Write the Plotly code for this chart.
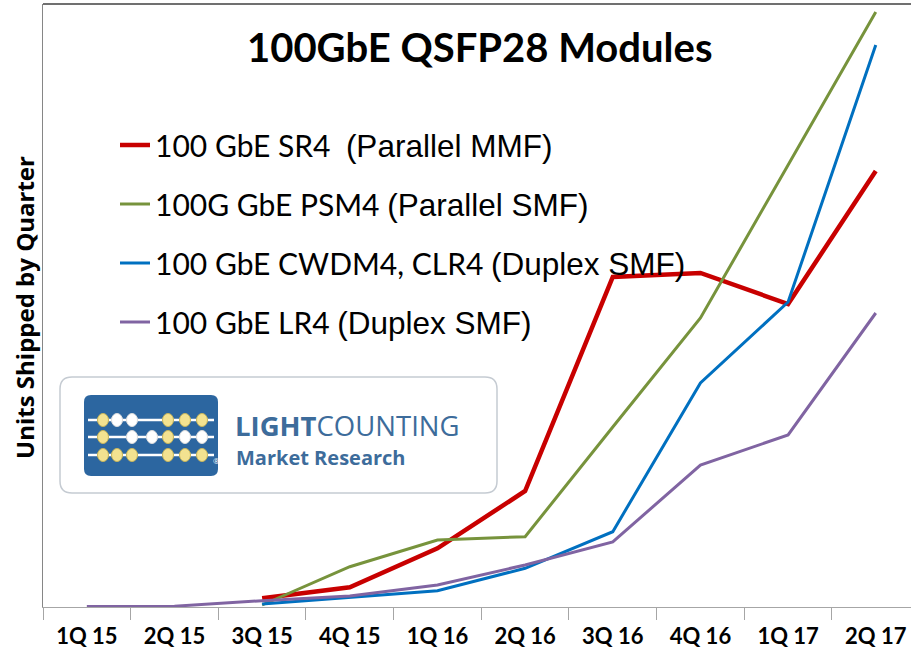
import plotly.graph_objects as go

# ---------------- data ----------------
quarters = ["1Q 15", "2Q 15", "3Q 15", "4Q 15", "1Q 16", "2Q 16", "3Q 16", "4Q 16", "1Q 17", "2Q 17"]
sr4   = [None, None, 8.7, 19.7, 58.7, 116, 330, 334, 303, 436]
psm4  = [None, None, 2.0, 40.3, 67, 70.3, 180, 289, 442, 595]
cwdm4 = [None, None, 3.0, 9.7, 16.3, 38.7, 75.3, 224, 305, 562]
lr4   = [0.5, 0.8, 6.3, 11, 22, 42, 65, 142, 172, 294]

names = [
    "100 GbE SR4\u00a0\u00a0<span style='font-family:Liberation Sans;font-size:31.5px'>(Parallel MMF)</span>",
    "100G GbE PSM4\u00a0<span style='font-family:Liberation Sans;font-size:31.5px'>(Parallel SMF)</span>",
    "100 GbE CWDM4, CLR4\u00a0<span style='font-family:Liberation Sans;font-size:31.5px'>(Duplex SMF)</span>",
    "100 GbE LR4\u00a0<span style='font-family:Liberation Sans;font-size:31.5px'>(Duplex SMF)</span>",
]
series = [sr4, psm4, cwdm4, lr4]
colors = ["#C80000", "#77933C", "#0070C0", "#8064A2"]
widths = [4.5, 3, 3, 3]

W, H = 911, 650
L, R_PX, T, B = 43, 911, 4, 607  # plot area in pixels


def px(x):
    return (x - L) / (R_PX - L)


def py(y):
    return (B - y) / (B - T)


fig = go.Figure()
for i, (nm, s, c, w) in enumerate(zip(names, series, colors, widths)):
    fig.add_trace(go.Scatter(
        x=quarters, y=s, mode="lines", name=nm,
        line=dict(color=c, width=w), legendgroup=f"g{i}",
        connectgaps=False,
    ))

shapes = []
annotations = []

# top border line
shapes.append(dict(type="line", xref="paper", yref="paper", x0=0, x1=1, y0=1, y1=1,
                   line=dict(color="#404040", width=1.5)))


# ---- logo box ----
def rrect(x0, y0, x1, y1, r):
    rx = r / (R_PX - L)
    ry = r / (B - T)
    X0, X1 = px(x0), px(x1)
    Y0, Y1 = py(y1), py(y0)  # bottom, top in paper
    return (f"M{X0+rx},{Y0} L{X1-rx},{Y0} Q{X1},{Y0} {X1},{Y0+ry} "
            f"L{X1},{Y1-ry} Q{X1},{Y1} {X1-rx},{Y1} L{X0+rx},{Y1} "
            f"Q{X0},{Y1} {X0},{Y1-ry} L{X0},{Y0+ry} Q{X0},{Y0} {X0+rx},{Y0} Z")


shapes.append(dict(type="path", xref="paper", yref="paper", path=rrect(60, 377, 497, 493, 12),
                   fillcolor="white", line=dict(color="#C5CBD2", width=1.5), layer="above"))
shapes.append(dict(type="path", xref="paper", yref="paper", path=rrect(84, 395, 218, 476, 7),
                   fillcolor="#2C66A0", line=dict(width=0), layer="above"))
rod_y = [420, 437, 455]
for yy in rod_y:
    shapes.append(dict(type="line", xref="paper", yref="paper", x0=px(88), x1=px(214),
                       y0=py(yy), y1=py(yy), line=dict(color="white", width=2.5), layer="above"))
bead_x = [103, 117, 132, 152, 168, 185, 202]
rows = [
    ["y", "w", "w", None, "y", "y", "y"],
    ["y", None, "w", "w", "y", "w", "w"],
    ["y", "y", "y", None, "y", "y", "y"],
]
for yy, row in zip(rod_y, rows):
    for xx, b in zip(bead_x, row):
        if b is None:
            continue
        shapes.append(dict(type="circle", xref="paper", yref="paper",
                           x0=px(xx - 5.5), x1=px(xx + 5.5), y0=py(yy + 6.5), y1=py(yy - 6.5),
                           fillcolor="#F3E290" if b == "y" else "white",
                           line=dict(color="#C9B65A" if b == "y" else "#DDDDDD", width=1),
                           layer="above"))

annotations.append(dict(xref="paper", yref="paper", x=px(211), y=py(468), text="®",
                        showarrow=False, font=dict(size=8, color="white", family="Open Sans")))
annotations.append(dict(xref="paper", yref="paper", x=px(233), y=py(425), xanchor="left",
                        yanchor="middle", text="<b>LIGHT</b>COUNTING", showarrow=False,
                        font=dict(size=27.5, color="#3D6C9B", family="Open Sans")))
annotations.append(dict(xref="paper", yref="paper", x=px(234), y=py(457), xanchor="left",
                        yanchor="middle", text="<b>Market Research</b>", showarrow=False,
                        font=dict(size=20, color="#3D6C9B", family="Open Sans")))

# title
annotations.append(dict(xref="paper", yref="paper", x=px(479), y=py(47), xanchor="center",
                        yanchor="middle", text="<b>100GbE QSFP28 Modules</b>", showarrow=False,
                        font=dict(size=40, color="black", family="Lato")))
# y axis title
annotations.append(dict(xref="paper", yref="paper", x=px(25), y=py(308), xanchor="center",
                        yanchor="middle", text="<b>Units Shipped by Quarter</b>", textangle=-90,
                        showarrow=False, font=dict(size=24, color="black", family="Open Sans")))

fig.update_layout(
    width=W, height=H,
    margin=dict(l=L, r=W - R_PX, t=T, b=H - B, autoexpand=False),
    paper_bgcolor="white", plot_bgcolor="white",
    showlegend=True,
    legend=dict(x=px(115), y=py(119), xanchor="left", yanchor="top",
                bgcolor="rgba(0,0,0,0)", borderwidth=0,
                font=dict(family="Lato", size=30, color="black"),
                traceorder="grouped", tracegroupgap=17, itemwidth=30),
    xaxis=dict(type="category", range=[-0.5, 9.402], tickson="boundaries",
               ticks="outside", ticklen=12, tickcolor="#A6A6A6", tickwidth=1,
               showline=True, linecolor="#A6A6A6", linewidth=1, showgrid=False,
               ticklabelstandoff=10,
               tickfont=dict(family="Lato", size=22, color="black", weight="bold"),
               automargin=False, fixedrange=True),
    yaxis=dict(range=[0, B - T], showticklabels=False, ticks="", showgrid=False,
               zeroline=False, showline=True, linecolor="#868686", linewidth=1,
               automargin=False, fixedrange=True),
    shapes=shapes,
    annotations=annotations,
)

fig.write_html("out.html", post_script="document.body.style.margin='0px';",
               config={"displayModeBar": False})
